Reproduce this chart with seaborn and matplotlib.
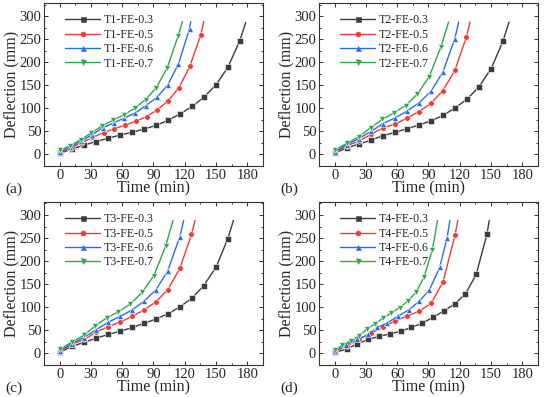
import matplotlib
matplotlib.use("Agg")
import matplotlib.pyplot as plt
import seaborn as sns
import pandas as pd
from matplotlib.lines import Line2D
from matplotlib.ticker import MultipleLocator

# ---- данные (время, мин / прогиб, мм) ----
# последняя точка каждой кривой - конец линии без маркера

# (a) T1
t1_03_t = [0, 11.5, 23.1, 34.9, 46.4, 57.9, 69.5, 81.0, 92.5, 104.0, 115.6, 127.1, 138.3, 150.1, 161.4, 172.9, 178.5]
t1_03_d = [2, 11.5, 20, 28, 35, 42, 48, 55, 63, 74, 88, 104, 124, 151, 189, 247, 286]
t1_05_t = [0, 10.6, 20.9, 31.5, 42.1, 52.3, 62.6, 72.9, 83.5, 93.8, 104.0, 114.6, 124.9, 135.2, 138.3]
t1_05_d = [3, 14, 25, 37, 47, 56, 63, 72, 82, 97, 116, 145, 191, 258, 288]
t1_06_t = [0, 10.3, 20.6, 31.2, 41.4, 51.7, 62.0, 72.6, 82.9, 93.5, 103.7, 114.0, 124.6, 125.8]
t1_06_d = [5, 16, 29, 43, 58, 68, 79, 90, 106, 124, 151, 196, 273, 288]
t1_07_t = [0, 10.3, 20.2, 30.5, 40.8, 51.1, 61.7, 72.0, 82.5, 92.8, 103.1, 113.7, 117.7]
t1_07_d = [9, 19, 32, 47, 62, 74, 86, 100, 119, 145, 187, 257, 288]

# (b) T2
t2_03_t = [0, 11.8, 23.7, 35.2, 46.7, 58.3, 69.8, 81.3, 92.8, 104.3, 115.6, 127.1, 138.3, 150.1, 161.4, 167.3]
t2_03_d = [3, 14, 23, 31, 41, 48, 56, 64, 73, 85, 101, 120, 146, 186, 245, 287]
t2_05_t = [0, 11.8, 23.7, 35.2, 46.7, 58.3, 69.5, 81.0, 92.5, 103.7, 115.3, 126.5, 129.9]
t2_05_d = [4, 19, 29, 44, 58, 66, 79, 93, 111, 138, 182, 255, 287]
t2_06_t = [0, 11.5, 23.1, 34.9, 46.4, 57.9, 69.5, 81.0, 92.5, 103.7, 115.3, 119.0]
t2_06_d = [6, 21, 34, 50, 67, 79, 94, 112, 137, 178, 251, 287]
t2_07_t = [0, 11.5, 23.1, 34.6, 45.8, 56.7, 68.2, 79.4, 90.6, 101.8, 109.3]
t2_07_d = [9, 24, 38, 58, 76, 90, 106, 131, 168, 232, 287]

# (c) T3
t3_03_t = [0, 11.8, 23.7, 35.2, 46.7, 58.3, 69.8, 81.3, 92.8, 104.3, 115.6, 127.1, 138.3, 150.1, 161.4, 166.7]
t3_03_d = [2, 15, 24, 33, 41, 48, 56, 65, 75, 86, 101, 120, 147, 187, 249, 288]
t3_05_t = [0, 11.8, 23.7, 35.2, 46.7, 58.3, 69.5, 81.0, 92.5, 103.7, 115.3, 126.5, 129.9]
t3_05_d = [3, 20, 30, 46, 58, 68, 80, 94, 112, 138, 184, 258, 288]
t3_06_t = [0, 11.5, 23.1, 34.9, 46.4, 57.9, 69.5, 81.0, 92.5, 103.7, 115.3, 119.0]
t3_06_d = [5, 21, 34, 51, 67, 80, 94, 113, 138, 179, 253, 288]
t3_07_t = [0, 11.5, 23.1, 33.9, 45.2, 56.4, 67.9, 79.1, 90.3, 101.8, 108.7]
t3_07_d = [9, 24, 39, 59, 77, 90, 107, 132, 168, 233, 288]

# (d) T4
t4_03_t = [0, 11.5, 21.8, 32.4, 43.0, 53.3, 63.5, 73.5, 83.8, 94.4, 104.7, 115.3, 125.5, 135.8, 146.1, 148.3]
t4_03_d = [2, 9, 21, 30, 37, 42, 48, 56, 65, 78, 92, 107, 129, 171, 258, 288]
t4_05_t = [0, 11.5, 23.4, 34.9, 46.4, 57.9, 69.5, 81.0, 92.8, 104.0, 115.6, 118.1]
t4_05_d = [4, 15, 31, 43, 57, 70, 81, 91, 109, 155, 257, 288]
t4_06_t = [0, 10.9, 21.8, 32.4, 41.1, 50.5, 60.4, 71.0, 81.3, 91.0, 100.9, 107.8, 110.6]
t4_06_d = [6, 18, 30, 41, 56, 66, 80, 94, 113, 138, 187, 250, 288]
t4_07_t = [0, 7.5, 15.3, 23.1, 31.2, 38.9, 46.7, 54.5, 62.3, 70.1, 77.9, 85.7, 93.8, 98.7]
t4_07_d = [8, 17, 27, 37, 53, 64, 77, 88, 99, 113, 132, 165, 225, 288]

ratios = ["0.3", "0.5", "0.6", "0.7"]
panels = {
    "T1": [(t1_03_t, t1_03_d), (t1_05_t, t1_05_d), (t1_06_t, t1_06_d), (t1_07_t, t1_07_d)],
    "T2": [(t2_03_t, t2_03_d), (t2_05_t, t2_05_d), (t2_06_t, t2_06_d), (t2_07_t, t2_07_d)],
    "T3": [(t3_03_t, t3_03_d), (t3_05_t, t3_05_d), (t3_06_t, t3_06_d), (t3_07_t, t3_07_d)],
    "T4": [(t4_03_t, t4_03_d), (t4_05_t, t4_05_d), (t4_06_t, t4_06_d), (t4_07_t, t4_07_d)],
}
panel_tags = ["(a)", "(b)", "(c)", "(d)"]

colors = ["#3c3c3c", "#f23a3a", "#2a6ee6", "#2ea84e"]
markers = ["s", "o", "^", "v"]

sns.set_theme(style="ticks")
plt.rcParams["font.family"] = ["Liberation Serif", "DejaVu Serif"]
plt.rcParams["xtick.direction"] = "in"
plt.rcParams["ytick.direction"] = "in"

fig = plt.figure(figsize=(5.5, 3.97), dpi=100)

# позиции осей в долях фигуры
positions = [
    (0.080, 0.582, 0.398, 0.410),
    (0.580, 0.582, 0.398, 0.410),
    (0.080, 0.081, 0.398, 0.410),
    (0.580, 0.081, 0.398, 0.410),
]

for i, (name, series) in enumerate(panels.items()):
    ax = fig.add_axes(positions[i])
    rows = []
    for r, (tt, dd) in zip(ratios, series):
        label = f"{name}-FE-{r}"
        for t, d in zip(tt, dd):
            rows.append({"series": label, "time": t, "defl": d})
    df = pd.DataFrame(rows)
    labels = [f"{name}-FE-{r}" for r in ratios]

    sns.lineplot(data=df, x="time", y="defl", hue="series", style="series",
                 hue_order=labels, style_order=labels, palette=colors,
                 markers=markers, dashes=False, markersize=4.0, linewidth=1.0,
                 markeredgewidth=0.4, markevery=slice(0, -1), sort=False,
                 estimator=None, legend=False, ax=ax)

    ax.set_xlim(-15, 195)
    ax.set_ylim(-25, 328)
    ax.xaxis.set_major_locator(MultipleLocator(30))
    ax.xaxis.set_minor_locator(MultipleLocator(15))
    ax.yaxis.set_major_locator(MultipleLocator(50))
    ax.yaxis.set_minor_locator(MultipleLocator(25))
    ax.tick_params(which="both", top=True, right=True, direction="in",
                   labelsize=10.5, color="#333333", width=0.7, pad=2)
    ax.tick_params(which="major", length=3)
    ax.tick_params(which="minor", length=1.6)
    for s in ax.spines.values():
        s.set_linewidth(0.8)
        s.set_color("#333333")

    ax.set_xlabel("Time (min)", fontsize=11.5, labelpad=-1)
    ax.set_ylabel("Deflection (mm)", fontsize=11.5, labelpad=0)

    handles = [Line2D([], [], color=c, marker=m, markersize=3.6, linewidth=1.0,
                      markeredgewidth=0.4) for c, m in zip(colors, markers)]
    ax.legend(handles, labels, loc="upper left", bbox_to_anchor=(0.065, 0.975),
              frameon=False, fontsize=8.6, handlelength=2.9, handletextpad=0.3,
              labelspacing=0.2, borderaxespad=0.2)

    x0, y0 = positions[i][0], positions[i][1]
    fig.text(x0 - 0.07, y0 - 0.068, panel_tags[i], fontsize=11)

fig.savefig("out.png", dpi=100)
